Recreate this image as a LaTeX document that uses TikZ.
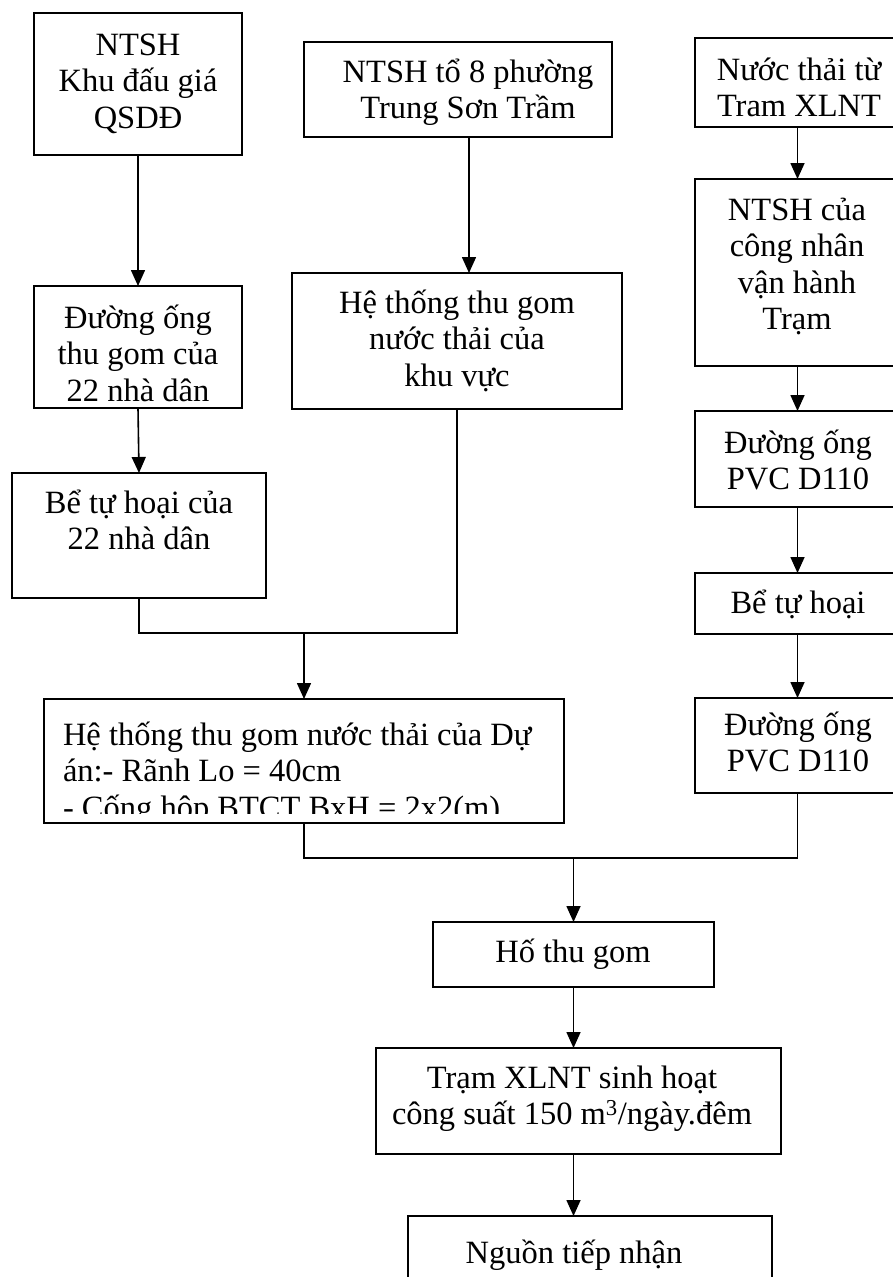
\documentclass[tikz,border=0pt]{standalone}
\usepackage{fontspec}
\setmainfont{Liberation Serif}
\usetikzlibrary{arrows.meta,calc}
\newcommand\clines[1]{\vtop{\lineskiplimit=-1000pt\lineskip=0pt\halign{\hfil##\hfil\cr#1\crcr}}}
\newcommand\llines[1]{\vtop{\lineskiplimit=-1000pt\lineskip=0pt\halign{##\hfil\cr#1\crcr}}}
\tikzset{
  box/.style={draw, line width=2pt, inner sep=0pt, outer sep=0pt, fill=none},
  txt/.style={inner sep=0pt, outer sep=0pt, anchor=base, font=\fontsize{32.5}{36.5}\selectfont},
  ltxt/.style={txt, anchor=base west},
  link/.style={line width=1.6pt},
  arr/.style={link, -{Triangle[length=16pt,width=14pt]}}
}
\begin{document}
\begin{tikzpicture}[x=1pt,y=-1pt]
\useasboundingbox (0,0) rectangle (893,1277);
\clip (0,0) rectangle (893,1277);
% boxes: centre = midpoint, size = extent
\node[box, minimum width=208pt, minimum height=142pt] (A) at (138,84) {};
\node[box, minimum width=208pt, minimum height=122pt] (B) at (138,347) {};
\node[box, minimum width=254pt, minimum height=125pt] (C) at (139,535.5) {};
\node[box, minimum width=308pt, minimum height=95pt] (D1) at (458,89.5) {};
\node[box, minimum width=330pt, minimum height=136pt] (D2) at (457,341) {};
\node[box, minimum width=520pt, minimum height=124pt] (E) at (304,761) {};
\node[box, minimum width=205pt, minimum height=89pt] (R1) at (797.5,82.5) {};
\node[box, minimum width=205pt, minimum height=187pt] (R2) at (797.5,272.5) {};
\node[box, minimum width=205pt, minimum height=96pt] (R3) at (797.5,459) {};
\node[box, minimum width=205pt, minimum height=61pt] (R4) at (797.5,603.5) {};
\node[box, minimum width=205pt, minimum height=95pt] (R5) at (797.5,745.5) {};
\node[box, minimum width=281pt, minimum height=65pt] (F) at (573.5,954.5) {};
\node[box, minimum width=405pt, minimum height=106pt] (G) at (578.5,1101) {};
\node[box, minimum width=364pt, minimum height=80pt] (H) at (590,1256) {};
% texts
\node[txt] (tA) at (138,55) {\clines{NTSH\cr Khu đấu giá\cr QSDĐ}};
\node[txt] (tB) at (138,328) {\clines{Đường ống\cr thu gom của\cr 22 nhà dân}};
\node[txt] (tC) at (139,513) {\clines{Bể tự hoại của\cr 22 nhà dân}};
\node[txt] (tD1) at (468,82) {\clines{NTSH tổ 8 phường\cr Trung Sơn Trầm}};
\node[txt] (tD2) at (457,313) {\clines{Hệ thống thu gom\cr nước thải của\cr khu vực}};
\begin{scope}
\clip (44,699) rectangle (564,813);
\node[ltxt] (tE) at (63,745) {\llines{Hệ thống thu gom nước thải của Dự\cr án:- Rãnh Lo = 40cm\cr - Cống hộp BTCT BxH = 2x2(m)}};
\end{scope}
\node[txt] (tR1) at (799,80) {\clines{Nước thải từ\cr Tram XLNT}};
\node[txt] (tR2) at (797,220) {\clines{NTSH của\cr công nhân\cr vận hành\cr Trạm}};
\node[txt] (tR3) at (798,453) {\clines{Đường ống\cr PVC D110}};
\node[txt] (tR4) at (798,613) {Bể tự hoại};
\node[txt] (tR5) at (798,735) {\clines{Đường ống\cr PVC D110}};
\node[txt] (tF) at (573,962) {Hố thu gom};
\node[txt] (tG) at (572,1088) {\clines{Trạm XLNT sinh hoạt\cr công suất 150 m\textsuperscript{3}/ngày.đêm}};
\node[txt] (tH) at (574,1263) {Nguồn tiếp nhận};
% connectors
\draw[arr] (A.south) -- (B.north);
\draw[arr] (B.south) -- (C.north);
\draw[arr] ([xshift=11pt]D1.south) -- ([xshift=11pt]D1.south |- D2.north);
\coordinate (J1) at (304,633);
\draw[link] (C.south) -- (C.south |- J1) -- (D2.south |- J1) -- (D2.south);
\draw[arr] (J1) -- (E.north);
\draw[arr] (R1.south) -- (R2.north);
\draw[arr] (R2.south) -- (R3.north);
\draw[arr] (R3.south) -- (R4.north);
\draw[arr] (R4.south) -- (R5.north);
\coordinate (J2) at (573.5,858);
\draw[link] (E.south) -- (E.south |- J2) -- (R5.south |- J2) -- (R5.south);
\draw[arr] (J2) -- (F.north);
\draw[arr] (F.south) -- (F.south |- G.north);
\draw[arr] (G.south -| F.south) -- (F.south |- H.north);
\end{tikzpicture}
\end{document}
